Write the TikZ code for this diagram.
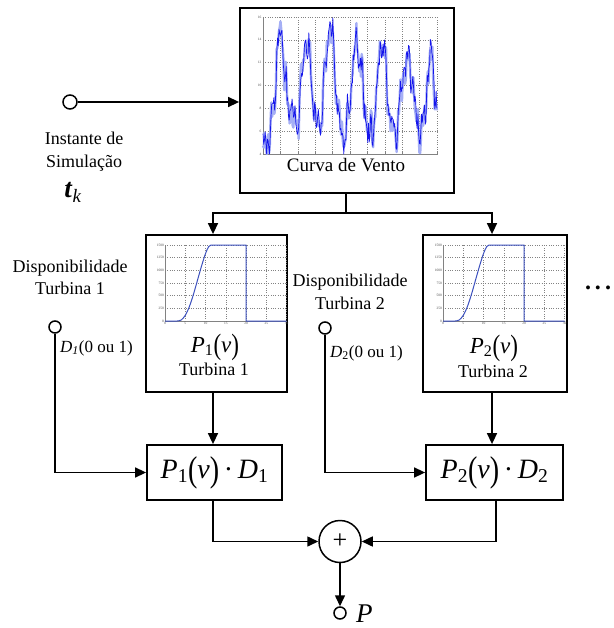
\documentclass[tikz,border=0pt]{standalone}
\usepackage{fontspec}
\setmainfont{Liberation Serif}
\usetikzlibrary{arrows.meta}

\definecolor{gridgray}{RGB}{130,130,130}
\definecolor{powerblue}{RGB}{60,80,190}
\definecolor{windblue}{RGB}{20,20,235}
\definecolor{windlight}{RGB}{165,175,245}

\newcommand\sizeto[2]{\fontsize{#1}{#2}\selectfont}
\newcommand\tallparen[1]{\raisebox{-0.1em}{\scalebox{1}[1.28]{#1}}}
\newcommand\Pv[1]{\textit{P}\textsubscript{#1}\tallparen{(}\textit{v}\tallparen{)}}

% Gaussian bump: x, centre, width, amplitude
\pgfmathdeclarefunction{bump}{4}{\pgfmathparse{#4*exp(-((#1-#2)*(#1-#2))/(#3*#3))}}
% periodic ripple: x, cycles over the record, phase (fraction of a cycle), amplitude
\pgfmathdeclarefunction{ripple}{4}{\pgfmathparse{#4*sin(360*mod(#2*#1+#3,1))}}
% wind speed record (m/s) over the normalised time 0..1, without the fast noise
\pgfmathdeclarefunction{windbase}{1}{\pgfmathparse{4.7 + bump(#1,0.10,0.038,9.8) + bump(#1,0.165,0.02,2.8) + bump(#1,0.25,0.042,9.2) + bump(#1,0.385,0.042,10.3) + bump(#1,0.54,0.045,8.8) + bump(#1,0.685,0.04,8.8) + bump(#1,0.83,0.05,7.6) + bump(#1,0.965,0.035,7.8) + ripple(#1,23,0.1,0.8) + ripple(#1,37,0.3,0.6) + ripple(#1,59,0.55,0.45)}}

% power curve of a turbine, origin at the lower left corner of its axes
\newcommand\powerplot[1]{%
  \begin{scope}[shift={#1}]
    \foreach \i in {1,...,6} \draw[gridline] (\i*20.25,0) -- (\i*20.25,-76);
    \foreach \j in {1,...,6} \draw[gridline] (0,-\j*12.667) -- (121.5,-\j*12.667);
    \draw[frameline] (0,-76) -- (0,0) -- (121.5,0);
    \foreach \i/\l in {0/0,1/5,2/10,3/15,4/20,5/25,6/30}
      \node[ticklbl, anchor=north] at (\i*20.25,0.5) {\l};
    \foreach \j/\l in {0/0,1/250,2/500,3/750,4/1000,5/1250,6/1500}
      \node[ticklbl, anchor=east] at (-0.5,-\j*12.667) {\l};
    \draw[powerblue, line width=1pt, line join=round]
      (0,0) -- (12.15,0) -- plot[smooth] coordinates {(12.15,0) (16.2,-1.0) (20.25,-5.6) (24.3,-14.2) (28.35,-26.3) (32.4,-40.5) (36.45,-54.7) (40.5,-67.4) (43.7,-74.4) (46.6,-76)}
      -- (81,-76) -- (81,0) -- (121.5,0);
  \end{scope}}

\begin{document}
\begin{tikzpicture}[x=1pt, y=-1pt,
  box/.style={draw, line width=1.8pt, fill=white, inner sep=0pt},
  wire/.style={line width=1.5pt},
  arr/.style={wire, -{Triangle[length=11pt, width=10pt]}},
  port/.style={circle, draw, line width=1.5pt, fill=white, inner sep=0pt, minimum size=#1},
  port/.default=12pt,
  lbl/.style={font=\sizeto{18}{22.5}, align=center, inner sep=0pt},
  gridline/.style={gridgray, line width=0.35pt, dotted},
  frameline/.style={gridgray, line width=0.5pt},
  ticklbl/.style={font=\sizeto{3.5}{4}, text=black!70, inner sep=0.5pt}]

\useasboundingbox (0,0) rectangle (613,628);

% ---- wind speed block ----
\node[box, minimum width=214pt, minimum height=185pt] (curva) at (347,100.5) {};
\begin{scope}[shift={(263,154)}]
  \foreach \i in {1,...,10} \draw[gridline] (\i*17.4,0) -- (\i*17.4,-137);
  \foreach \j in {1,...,6} \draw[gridline] (0,-\j*22.833) -- (174,-\j*22.833);
  \draw[frameline] (0,-137) -- (0,0) -- (174,0);
  \foreach \i in {1,...,10} \draw[frameline] (\i*17.4,0) -- (\i*17.4,-2);
  \foreach \j/\l in {0/4,1/6,2/8,3/10,4/12,5/14,6/16}
    \node[ticklbl, anchor=east] at (-1,-\j*22.833) {\l};
  \pgfmathsetseed{31}
  \draw[windlight, line width=2.4pt, line join=round]
    plot[domain=0:1, samples=230, variable=\t]
    ({174*\t}, {-11.417*(min(16,max(4,windbase(\t)+1.0*rand))-4)});
  \pgfmathsetseed{7}
  \draw[windblue, line width=0.7pt, line join=round]
    plot[domain=0:1, samples=240, variable=\t]
    ({174*\t}, {-11.417*(min(16,max(4,windbase(\t)+0.8*rand))-4)});
\end{scope}
\node[font=\sizeto{19}{22}, anchor=base, inner sep=0pt] (curvatxt) at (346,172) {Curva de Vento};

% ---- time input ----
\node[port=14pt] (tin) at (70,102) {};
\draw[arr] (tin) -- (tin -| curva.west);
\node[lbl] (tinlbl) at (84,151.5) {Instante de\\Simulação};
\node[font=\sizeto{27}{30}, anchor=base, inner sep=0pt] (tk) at (73,198) {\textbf{\textit{t}}\textsubscript{\textit{k}}};

% ---- turbine blocks ----
\node[box, minimum width=141pt, minimum height=157pt] (t1) at (216.5,313.5) {};
\node[box, minimum width=144pt, minimum height=157pt] (t2) at (495,313.5) {};
\powerplot{(165,321)}
\powerplot{(443,321)}
\node[font=\sizeto{23}{26}, anchor=base, inner sep=0pt] (p1txt) at (215,352) {\Pv{1}};
\node[font=\sizeto{18}{22}, anchor=base, inner sep=0pt] (t1txt) at (214,375) {Turbina 1};
\node[font=\sizeto{23}{26}, anchor=base, inner sep=0pt] (p2txt) at (494,353) {\Pv{2}};
\node[font=\sizeto{18}{22}, anchor=base, inner sep=0pt] (t2txt) at (493,377) {Turbina 2};

% distribution of the wind record to the turbines
\coordinate (split) at (346,213);
\coordinate (j1) at (213,213);
\coordinate (j2) at (492,213);
\draw[wire] (split |- curva.south) -- (split);
\draw[arr] (split) -| (j1 |- t1.north);
\draw[arr] (split) -| (j2 |- t2.north);

% ---- availability blocks ----
\node[box, minimum width=135pt, minimum height=55pt, font=\sizeto{28}{32}] (m1) at (214.5,472.5)
  {\Pv{1}\,·\,\textit{D}\textsubscript{1}};
\node[box, minimum width=137pt, minimum height=55pt, font=\sizeto{28}{32}] (m2) at (494.5,472.5)
  {\Pv{2}\,·\,\textit{D}\textsubscript{2}};
\draw[arr] (t1.south -| j1) -- (j1 |- m1.north);
\draw[arr] (t2.south -| j2) -- (j2 |- m2.north);

\node[port] (d1) at (55,327) {};
\node[port] (d2) at (325,328) {};
\draw[arr] (d1.south) |- (m1.west);
\draw[arr] (d2.south) |- (m2.west);
\node[lbl] (d1lbl) at (70,277.5) {Disponibilidade\\Turbina 1};
\node[lbl] (d2lbl) at (350,292) {Disponibilidade\\Turbina 2};
\node[font=\sizeto{17}{20}, anchor=base west, inner sep=0pt] (d1txt) at (60,352) {\textit{D}\textsubscript{\textit{1}}(0 ou 1)};
\node[font=\sizeto{17}{20}, anchor=base west, inner sep=0pt] (d2txt) at (330,357) {\textit{D}\textsubscript{2}(0 ou 1)};

\node[font=\sizeto{24}{26}, inner sep=0pt] (more) at (598,288) {\textbf{.\hspace{4pt}.\hspace{4pt}.}};

% ---- summation and output ----
\node[circle, draw, line width=1.5pt, fill=white, minimum size=42pt, inner sep=0pt, font=\sizeto{26}{28}] (sum) at (340,541.5) {+};
\draw[arr] (m1.south -| j1) |- (sum.west);
\draw[arr] ([xshift=1.5pt]m2.south) |- (sum.east);
\node[port] (out) at (340,613) {};
\draw[arr] (sum.south) -- (out.north);
\node[font=\sizeto{27}{30}, anchor=base west, inner sep=0pt] (ptxt) at (356,622) {\textit{P}};
\end{tikzpicture}
\end{document}
